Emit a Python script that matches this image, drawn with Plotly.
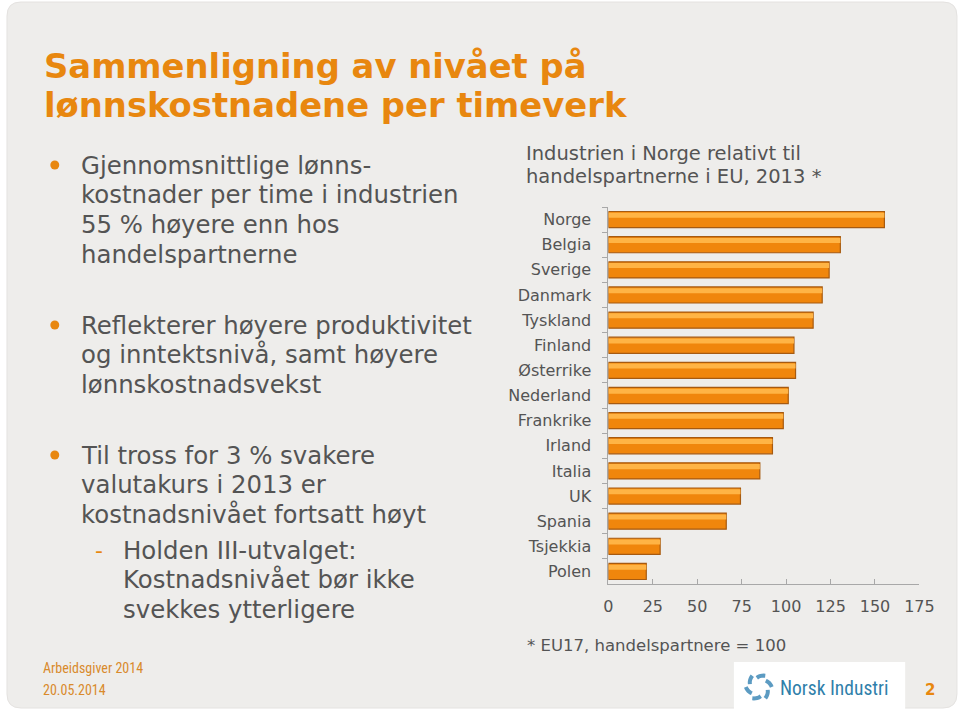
import math
import plotly.graph_objects as go

W, H = 960, 712
WX = 944  # effective horizontal extent seen in the rendered page

countries = ["Norge", "Belgia", "Sverige", "Danmark", "Tyskland", "Finland", "Østerrike",
             "Nederland", "Frankrike", "Irland", "Italia", "UK", "Spania", "Tsjekkia", "Polen"]
values = [155.3, 130.5, 124.2, 120.3, 115.2, 104.4, 105.3, 101.2, 98.4, 92.3, 85.2, 74.3, 66.3, 29.1, 21.3]
x_ticks = [0, 25, 50, 75, 100, 125, 150, 175]

title_lines = ["Sammenligning av nivået på", "lønnskostnadene per timeverk"]
bullets = [
    ["Gjennomsnittlige lønns-", "kostnader per time i industrien", "55 % høyere enn hos", "handelspartnerne"],
    ["Reflekterer høyere produktivitet", "og inntektsnivå, samt høyere", "lønnskostnadsvekst"],
    ["Til tross for 3 % svakere", "valutakurs i 2013 er", "kostnadsnivået fortsatt høyt"],
]
sub_bullet = ["Holden III-utvalget:", "Kostnadsnivået bør ikke", "svekkes ytterligere"]
chart_title = ["Industrien i Norge relativt til", "handelspartnerne i EU, 2013 *"]
footnote = "* EU17, handelspartnere = 100"
footer = ["Arbeidsgiver 2014", "20.05.2014"]

ORANGE = "#E8870F"
GREY = "#545454"
FONT = "DejaVu Sans, Verdana, sans-serif"
NARROW = "Liberation Sans Narrow, Roboto Condensed, Arial Narrow, sans-serif"

def px(x):
    return x / WX

def py(y):
    return 1 - y / H

fig = go.Figure()

fig.add_trace(go.Bar(
    y=countries, x=values, orientation="h",
    width=0.64, offset=-0.32,
    marker=dict(color="#F0860C", line=dict(color="#A65A10", width=1.2)),
    hoverinfo="x+y", showlegend=False,
))
fig.add_trace(go.Bar(
    y=countries, x=values, orientation="h",
    width=0.2, offset=-0.27,
    marker=dict(color="#FFB445", line=dict(width=0)),
    hoverinfo="skip", showlegend=False,
))

shapes = []
x0, y0, x1, y1, r = 2, 2, 956, 708, 14
path = (f"M {px(x0+r)},{py(y0)} L {px(x1-r)},{py(y0)} "
        f"Q {px(x1)},{py(y0)} {px(x1)},{py(y0+r)} L {px(x1)},{py(y1-r)} "
        f"Q {px(x1)},{py(y1)} {px(x1-r)},{py(y1)} L {px(x0+r)},{py(y1)} "
        f"Q {px(x0)},{py(y1)} {px(x0)},{py(y1-r)} L {px(x0)},{py(y0+r)} "
        f"Q {px(x0)},{py(y0)} {px(x0+r)},{py(y0)} Z")
shapes.append(dict(type="path", xref="paper", yref="paper", path=path,
                   fillcolor="#EEEDEB", line=dict(color="#E4E2E0", width=1), layer="below"))
shapes.append(dict(type="rect", xref="paper", yref="paper",
                   x0=px(732), x1=px(904), y0=py(712), y1=py(662),
                   fillcolor="white", line=dict(width=0), layer="below"))
cx, cy, rr = 757, 687, 13
for a0 in range(0, 360, 60):
    pts = []
    for k in range(7):
        a = math.radians(a0 + k * 7)
        rad = rr - k * 0.6
        pts.append((cx + rad * math.cos(a), cy - rad * math.sin(a)))
    d = "M " + " L ".join(f"{px(p[0])},{py(p[1])}" for p in pts)
    shapes.append(dict(type="path", xref="paper", yref="paper", path=d,
                       line=dict(color="#5C9BC2", width=4)))
for yb in [165, 325, 455]:
    shapes.append(dict(type="circle", xref="paper", yref="paper",
                       x0=px(45.5), x1=px(54.5), y0=py(yb + 4.5), y1=py(yb - 4.5),
                       fillcolor=ORANGE, line=dict(width=0)))

ann = []
def text(x, y, s, size, color=GREY, family=FONT, xanchor="left"):
    ann.append(dict(x=px(x), y=py(y), xref="paper", yref="paper", text=s, showarrow=False,
                    xanchor=xanchor, yanchor="middle", font=dict(size=size, color=color, family=family)))

for i, s in enumerate(title_lines):
    text(37, 66 + i * 40, f"<b>{s}</b>", 33.8, ORANGE)

starts = [165, 325, 455]
for b, y0b in zip(bullets, starts):
    for i, s in enumerate(b):
        text(74, y0b + i * 29.8, s, 24.4)
text(88, 550, "-", 22, ORANGE)
for i, s in enumerate(sub_bullet):
    text(116, 550 + i * 29.8, s, 24.4)

for i, s in enumerate(chart_title):
    text(521, 153 + i * 24, s, 19.5)
text(522, 645, footnote, 16.5)

text(36, 668, footer[0], 14, "#D98A2B", NARROW)
text(36, 690, footer[1], 14, "#D98A2B", NARROW)
text(776, 688, "Norsk Industri", 19.5, "#2F7FAA", NARROW)
text(922, 690, "<b>2</b>", 15, ORANGE)

fig.update_layout(
    width=W, height=H, autosize=False,
    margin=dict(l=0, r=0, t=0, b=0),
    paper_bgcolor="white", plot_bgcolor="rgba(0,0,0,0)",
    barmode="overlay",
    shapes=shapes, annotations=ann,
    font=dict(family=FONT, color=GREY),
    xaxis=dict(domain=[px(606), px(918.3)], range=[0, 175], tickvals=x_ticks,
               showgrid=False, zeroline=False, showline=True, linecolor="#A8A8A8", linewidth=1,
               ticks="inside", ticklen=5, tickcolor="#A8A8A8",
               tickfont=dict(size=16, color=GREY, family=FONT), ticklabelstandoff=8, fixedrange=True),
    yaxis=dict(domain=[py(584), py(207)], autorange="reversed", type="category",
               showgrid=False, zeroline=False, showline=True, linecolor="#A8A8A8", linewidth=1,
               ticks="outside", ticklen=5, tickcolor="#A8A8A8", tickson="boundaries",
               tickfont=dict(size=16, color=GREY, family=FONT), ticklabelstandoff=13, fixedrange=True),
)

post = ("document.documentElement.style.overflow='hidden';"
        "document.body.style.margin='0';document.body.style.overflow='hidden';")
fig.write_html("out.html", config={"displayModeBar": False, "responsive": False}, post_script=post)
